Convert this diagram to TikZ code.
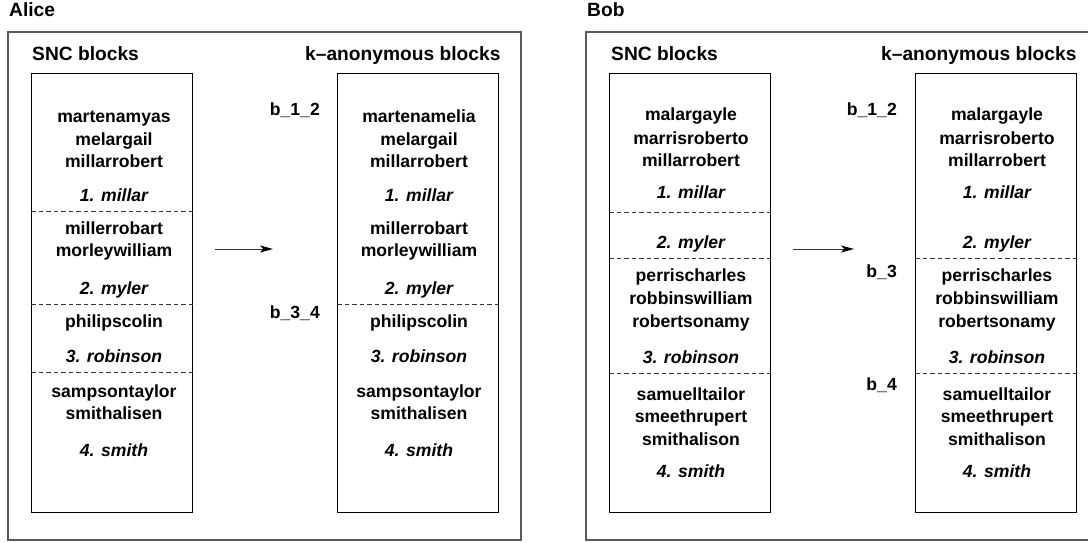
\documentclass[tikz,border=0pt]{standalone}
\usepackage{fontspec}
\setmainfont{Liberation Sans}
\usetikzlibrary{arrows.meta}

\tikzset{
  entry/.style={font=\fontsize{17.6}{21}\selectfont\bfseries, anchor=base, inner sep=0pt},
  tag/.style={font=\fontsize{17.6}{21}\selectfont\bfseries\itshape, anchor=base, inner sep=0pt},
  lbl/.style={font=\fontsize{17.6}{21}\selectfont\bfseries, anchor=base east, inner sep=0pt},
  head/.style={font=\fontsize{19.2}{23}\selectfont\bfseries, anchor=base west, inner sep=0pt},
  frame/.style={draw=black!65, line width=1.1pt},
  column/.style={draw=black, line width=0.9pt, anchor=north west, inner sep=0pt,
                 minimum width=161pt, minimum height=439pt},
  sep/.style={draw=black!80, line width=0.8pt, dash pattern=on 4.5pt off 3pt},
  flow/.style={draw=black!80, line width=1pt,
               -{Stealth[length=13pt,width=7pt,inset=3.5pt,color=black,fill=black]}}
}

\begin{document}
\begin{tikzpicture}[x=1pt,y=-1pt]
\useasboundingbox (0,0) rectangle (1088,543);

% ---------------- Alice ----------------
\node[head] (alice) at (9,17) {Alice};
\draw[frame] (8,32) rectangle (521,540);
\node[head] (aSNCh) at (32,61) {SNC blocks};
\node[head] (aKh) at (305,61) {k--anonymous blocks};

\node[column] (aL) at (31,73) {};
\node[column] (aR) at (337,73) {};

\draw[sep] (aL.west |- 0,211) -- (aL.east |- 0,211);
\draw[sep] (aL.west |- 0,304) -- (aL.east |- 0,304);
\draw[sep] (aL.west |- 0,372) -- (aL.east |- 0,372);
\draw[sep] (aR.west |- 0,304) -- (aR.east |- 0,304);

% SNC blocks
\node[entry] (aL1) at (114,122) {martenamyas};
\node[entry] (aL2) at (114,145) {melargail};
\node[entry] (aL3) at (114,167) {millarrobert};
\node[tag]   (aL4) at (114,201) {1. millar};
\node[entry] (aL5) at (114,234) {millerrobart};
\node[entry] (aL6) at (114,256) {morleywilliam};
\node[tag]   (aL7) at (114,294) {2. myler};
\node[entry] (aL8) at (114,327) {philipscolin};
\node[tag]   (aL9) at (114,362) {3. robinson};
\node[entry] (aL10) at (114,397) {sampsontaylor};
\node[entry] (aL11) at (114,419) {smithalisen};
\node[tag]   (aL12) at (114,456) {4. smith};

% k-anonymous blocks
\node[entry] (aR1) at (419,122) {martenamelia};
\node[entry] (aR2) at (419,145) {melargail};
\node[entry] (aR3) at (419,167) {millarrobert};
\node[tag]   (aR4) at (419,201) {1. millar};
\node[entry] (aR5) at (419,234) {millerrobart};
\node[entry] (aR6) at (419,256) {morleywilliam};
\node[tag]   (aR7) at (419,294) {2. myler};
\node[entry] (aR8) at (419,327) {philipscolin};
\node[tag]   (aR9) at (419,362) {3. robinson};
\node[entry] (aR10) at (419,397) {sampsontaylor};
\node[entry] (aR11) at (419,419) {smithalisen};
\node[tag]   (aR12) at (419,456) {4. smith};

\node[lbl] (ab12) at (320,116) {b\_1\_2};
\node[lbl] (ab34) at (320,318) {b\_3\_4};

\coordinate (aArrS) at (215,249);
\coordinate (aArrE) at (273,249);
\draw[flow] (aArrS) -- (aArrE);

% ---------------- Bob ----------------
\node[head] (bob) at (587,17) {Bob};
\draw[frame] (1095,32) -- (586,32) -- (586,540) -- (1095,540);
\node[head] (bSNCh) at (611,61) {SNC blocks};
\node[head] (bKh) at (881,61) {k--anonymous blocks};

\node[column] (bL) at (609,73) {};
\node[column] (bR) at (915,73) {};

\draw[sep] (bL.west |- 0,212) -- (bL.east |- 0,212);
\draw[sep] (bL.west |- 0,258) -- (bL.east |- 0,258);
\draw[sep] (bL.west |- 0,373) -- (bL.east |- 0,373);
\draw[sep] (bR.west |- 0,258) -- (bR.east |- 0,258);
\draw[sep] (bR.west |- 0,373) -- (bR.east |- 0,373);

% SNC blocks
\node[entry] (bL1) at (691,121) {malargayle};
\node[entry] (bL2) at (691,144) {marrisroberto};
\node[entry] (bL3) at (691,166) {millarrobert};
\node[tag]   (bL4) at (691,198) {1. millar};
\node[tag]   (bL5) at (691,248) {2. myler};
\node[entry] (bL6) at (691,281) {perrischarles};
\node[entry] (bL7) at (691,304) {robbinswilliam};
\node[entry] (bL8) at (691,327) {robertsonamy};
\node[tag]   (bL9) at (691,363) {3. robinson};
\node[entry] (bL10) at (691,400) {samuelltailor};
\node[entry] (bL11) at (691,422) {smeethrupert};
\node[entry] (bL12) at (691,445) {smithalison};
\node[tag]   (bL13) at (691,477) {4. smith};

% k-anonymous blocks
\node[entry] (bR1) at (997,121) {malargayle};
\node[entry] (bR2) at (997,144) {marrisroberto};
\node[entry] (bR3) at (997,166) {millarrobert};
\node[tag]   (bR4) at (997,198) {1. millar};
\node[tag]   (bR5) at (997,248) {2. myler};
\node[entry] (bR6) at (997,281) {perrischarles};
\node[entry] (bR7) at (997,304) {robbinswilliam};
\node[entry] (bR8) at (997,327) {robertsonamy};
\node[tag]   (bR9) at (997,363) {3. robinson};
\node[entry] (bR10) at (997,400) {samuelltailor};
\node[entry] (bR11) at (997,422) {smeethrupert};
\node[entry] (bR12) at (997,445) {smithalison};
\node[tag]   (bR13) at (997,477) {4. smith};

\node[lbl] (bb12) at (897,116) {b\_1\_2};
\node[lbl] (bb3) at (897,277) {b\_3};
\node[lbl] (bb4) at (897,390) {b\_4};

\coordinate (bArrS) at (793,249);
\coordinate (bArrE) at (854,249);
\draw[flow] (bArrS) -- (bArrE);
\end{tikzpicture}
\end{document}
